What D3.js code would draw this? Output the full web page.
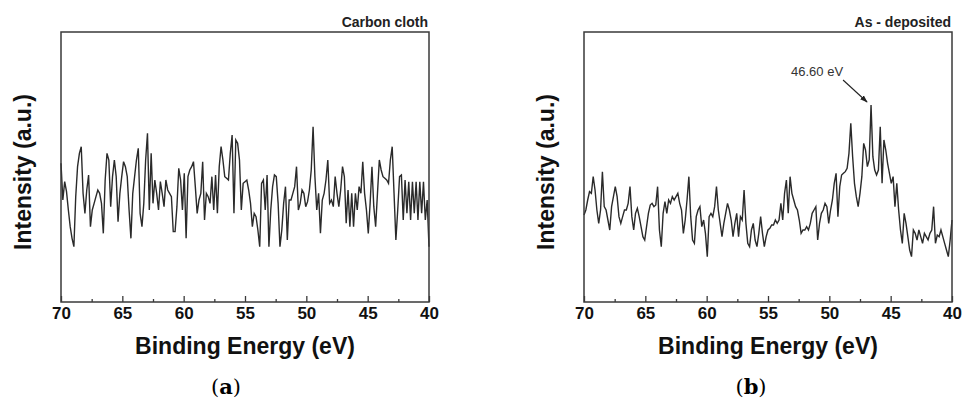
<!DOCTYPE html>
<html>
<head>
<meta charset="utf-8">
<script src="https://cdn.jsdelivr.net/npm/d3@7"></script>
<style>
  html, body { margin: 0; padding: 0; background: #fff; }
  svg { display: block; }
</style>
</head>
<body>
<svg id="chart" width="962" height="401"></svg>
<script>
// ---- data ----
const energyStart = 70;      // eV
const energyStep = 0.15;     // eV per point (descending)
const xTickValues = [70, 65, 60, 55, 50, 45, 40];
const xMinorTicks = [67.5, 62.5, 57.5, 52.5, 47.5, 42.5];
const panelTitles = ["Carbon cloth", "As - deposited"];
const panelLetters = ["a", "b"];
const peakLabel = "46.60 eV";
const peakEnergy = 46.6;

const carbonCloth = [440,330,385,355,300,250,215,190,340,430,470,490,350,290,360,405,250,300,320,340,
360,350,320,230,390,470,450,310,400,450,400,265,350,400,445,430,400,300,215,350,
400,450,485,290,250,320,450,530,300,470,320,390,350,300,385,350,310,390,360,350,
340,235,235,310,425,390,300,410,215,400,420,430,445,370,290,330,350,445,270,350,
340,320,400,300,405,290,430,490,450,400,395,390,470,525,290,510,500,450,300,380,
385,390,360,320,250,290,280,240,190,380,390,300,405,190,300,370,405,400,320,190,
240,320,370,210,330,330,350,370,430,300,320,360,350,310,325,360,420,550,400,300,
350,230,330,350,390,450,320,330,310,400,350,310,360,430,400,260,360,250,350,250,
350,300,370,350,445,350,300,230,320,430,310,250,350,450,420,400,395,390,380,450,
490,350,210,300,400,405,270,390,290,385,270,385,290,385,270,385,290,385,270,330,190];

const asDeposited = [285,300,330,355,350,400,360,300,260,300,415,310,300,270,240,310,340,370,340,280,
260,280,300,300,320,370,280,240,290,305,280,250,220,210,250,290,315,320,310,315,
370,240,190,290,325,290,330,320,340,330,340,350,320,300,230,270,330,400,280,210,
200,280,300,310,250,270,230,160,280,290,280,310,370,300,260,220,260,290,320,300,
270,220,260,290,220,280,270,360,260,200,190,240,260,210,190,230,280,230,190,220,
240,245,255,255,270,260,270,320,270,350,390,290,400,350,330,310,300,270,230,240,
240,250,240,260,290,300,310,210,260,290,300,320,310,260,300,330,380,410,280,370,
405,410,415,425,470,560,460,380,340,310,350,400,500,480,430,450,615,460,420,405,
420,550,380,510,480,440,410,380,400,310,380,300,240,200,290,260,220,180,160,240,
230,210,240,220,200,230,220,210,230,240,310,200,225,220,240,220,200,180,160,210,270];

const intensityDomain = [24, 834];

// ---- layout ----
const svg = d3.select("#chart");
const plotTop = 32, plotBottom = 302;
const panels = [
  { left: 61, right: 429, data: carbonCloth, titleX: 31, letterX: 226 },
  { left: 584, right: 952, data: asDeposited, titleX: 554, letterX: 751 }
];

svg.append("defs").append("marker")
  .attr("id", "arrow")
  .attr("viewBox", "0 0 10 10")
  .attr("refX", 9).attr("refY", 5)
  .attr("markerWidth", 7).attr("markerHeight", 7)
  .attr("orient", "auto")
  .append("path").attr("d", "M0,1.5 L10,5 L0,8.5 Z").attr("fill", "#222");

panels.forEach((p, k) => {
  const x = d3.scaleLinear().domain([energyStart, 40]).range([p.left, p.right]);
  const y = d3.scaleLinear().domain(intensityDomain).range([plotBottom, plotTop]);
  const g = svg.append("g");

  const pts = p.data.map((v, i) => [energyStart - energyStep * i, v]);

  // spectrum line
  g.append("path")
    .datum(pts)
    .attr("fill", "none")
    .attr("stroke", "#2a2a2a")
    .attr("stroke-width", 1.4)
    .attr("stroke-linejoin", "miter")
    .attr("d", d3.line().x(d => x(d[0])).y(d => y(d[1])));

  // frame
  g.append("rect")
    .attr("x", p.left).attr("y", plotTop)
    .attr("width", p.right - p.left).attr("height", plotBottom - plotTop)
    .attr("fill", "none").attr("stroke", "#3a3a3a").attr("stroke-width", 1.5);

  // bottom axis, ticks inward
  const ax = g.append("g").attr("transform", `translate(0,${plotBottom})`)
    .call(d3.axisBottom(x).tickValues(xTickValues).tickSize(-6).tickPadding(5).tickFormat(d3.format("d")));
  ax.select(".domain").remove();
  ax.selectAll(".tick line").attr("stroke", "#3a3a3a").attr("stroke-width", 1.3);
  ax.selectAll(".tick text")
    .attr("font-family", "'Liberation Sans', Arial, sans-serif")
    .attr("font-weight", "bold").attr("font-size", 17).attr("fill", "#111");

  const mx = g.append("g").attr("transform", `translate(0,${plotBottom})`)
    .call(d3.axisBottom(x).tickValues(xMinorTicks).tickSize(-3).tickFormat(""));
  mx.select(".domain").remove();
  mx.selectAll(".tick line").attr("stroke", "#3a3a3a").attr("stroke-width", 1.3);

  // axis titles
  g.append("text")
    .attr("x", (p.left + p.right) / 2).attr("y", 354)
    .attr("text-anchor", "middle")
    .attr("font-family", "'Liberation Sans', Arial, sans-serif")
    .attr("font-weight", "bold").attr("font-size", 23).attr("fill", "#111")
    .text("Binding Energy (eV)");

  g.append("text")
    .attr("transform", `translate(${p.titleX},172) rotate(-90)`)
    .attr("text-anchor", "middle")
    .attr("font-family", "'Liberation Sans', Arial, sans-serif")
    .attr("font-weight", "bold").attr("font-size", 23).attr("fill", "#111")
    .text("Intensity (a.u.)");

  // panel tag top-right
  g.append("text")
    .attr("x", p.right - 1).attr("y", 27)
    .attr("text-anchor", "end")
    .attr("font-family", "'Liberation Sans', Arial, sans-serif")
    .attr("font-weight", "bold").attr("font-size", 14).attr("fill", "#222")
    .text(panelTitles[k]);

  // panel letter
  const lt = g.append("text")
    .attr("x", p.letterX).attr("y", 394)
    .attr("text-anchor", "middle")
    .attr("font-family", "'DejaVu Serif', serif")
    .attr("font-size", 21).attr("fill", "#000");
  lt.append("tspan").text("(");
  lt.append("tspan").attr("font-weight", "bold").text(panelLetters[k]);
  lt.append("tspan").text(")");

  // peak annotation on panel b
  if (k === 1) {
    const idx = d3.minIndex(pts, d => Math.abs(d[0] - peakEnergy));
    const px = x(pts[idx][0]), py = y(pts[idx][1]);
    g.append("line")
      .attr("x1", px - 28).attr("y1", py - 25)
      .attr("x2", px - 4).attr("y2", py - 3)
      .attr("stroke", "#222").attr("stroke-width", 1.1)
      .attr("marker-end", "url(#arrow)");
    g.append("text")
      .attr("x", px - 54).attr("y", py - 29)
      .attr("text-anchor", "middle")
      .attr("font-family", "'Liberation Sans', Arial, sans-serif")
      .attr("font-size", 13).attr("fill", "#333")
      .text(peakLabel);
  }
});
</script>
</body>
</html>
